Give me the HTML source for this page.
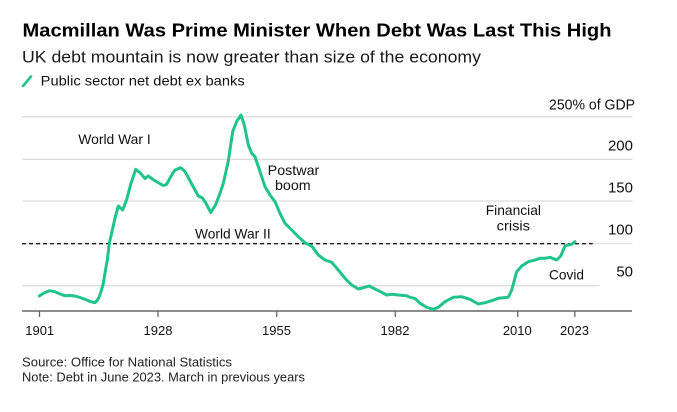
<!DOCTYPE html>
<html>
<head>
<meta charset="utf-8">
<style>
  html,body{margin:0;padding:0;background:#fff;}
  svg{display:block;}
  text{font-family:"Liberation Sans",Arial,sans-serif;}
</style>
</head>
<body>
<svg width="677" height="412" viewBox="0 0 677 412" xmlns="http://www.w3.org/2000/svg">
  <rect width="677" height="412" fill="#fff"/>

  <!-- Title block -->
  <text x="22.5" y="36.7" font-size="18.5" font-weight="bold" fill="#000" textLength="589" lengthAdjust="spacingAndGlyphs">Macmillan Was Prime Minister When Debt Was Last This High</text>
  <text x="22" y="62.7" font-size="17" fill="#1a1a1a" textLength="459" lengthAdjust="spacingAndGlyphs">UK debt mountain is now greater than size of the economy</text>
  <line x1="23" y1="86" x2="31" y2="76.5" stroke="#1fc38b" stroke-width="2.6" stroke-linecap="round"/>
  <text x="40.7" y="85.3" font-size="14" fill="#111" textLength="204" lengthAdjust="spacingAndGlyphs">Public sector net debt ex banks</text>

  <!-- Gridlines -->
  <g stroke="#dedede" stroke-width="1.3">
    <line x1="22" y1="116.8" x2="632.5" y2="116.8"/>
    <line x1="22" y1="159.3" x2="632.5" y2="159.3"/>
    <line x1="22" y1="201" x2="632.5" y2="201"/>
    <line x1="22" y1="243.5" x2="632.5" y2="243.5"/>
    <line x1="22" y1="285.7" x2="599.5" y2="285.7"/>
  </g>

  <!-- Y labels -->
  <g font-size="15" fill="#111" text-anchor="end">
    <text x="635" y="109.3" textLength="86" lengthAdjust="spacingAndGlyphs">250% of GDP</text>
    <text x="633" y="150.7">200</text>
    <text x="633" y="192.7">150</text>
    <text x="633" y="234.3">100</text>
    <text x="633" y="276.7">50</text>
  </g>

  <!-- Dashed 100% line -->
  <line x1="22" y1="243.7" x2="592.7" y2="243.7" stroke="#222" stroke-width="1.3" stroke-dasharray="4 3"/>

  <!-- Axis -->
  <line x1="22" y1="311" x2="632" y2="311" stroke="#666" stroke-width="1.6"/>
  <g stroke="#666" stroke-width="1.3">
    <line x1="39.5" y1="311" x2="39.5" y2="317"/>
    <line x1="158" y1="311" x2="158" y2="317"/>
    <line x1="276.7" y1="311" x2="276.7" y2="317"/>
    <line x1="395.3" y1="311" x2="395.3" y2="317"/>
    <line x1="517.7" y1="311" x2="517.7" y2="317"/>
    <line x1="574.8" y1="311" x2="574.8" y2="317"/>
  </g>
  <g font-size="13" fill="#111" text-anchor="middle">
    <text x="39.7" y="335">1901</text>
    <text x="158" y="335">1928</text>
    <text x="276.5" y="335">1955</text>
    <text x="395" y="335">1982</text>
    <text x="517.3" y="335">2010</text>
    <text x="574.5" y="335">2023</text>
  </g>

  <!-- Annotations -->
  <g font-size="14" fill="#111">
    <text x="78.3" y="144" textLength="72.4" lengthAdjust="spacingAndGlyphs">World War I</text>
    <text x="267.7" y="175" textLength="51.6" lengthAdjust="spacingAndGlyphs">Postwar</text>
    <text x="275" y="190" textLength="35.7" lengthAdjust="spacingAndGlyphs">boom</text>
    <text x="195" y="238.3" textLength="75.7" lengthAdjust="spacingAndGlyphs">World War II</text>
    <text x="485.7" y="215" textLength="55.3" lengthAdjust="spacingAndGlyphs">Financial</text>
    <text x="496.7" y="230.7" textLength="33.3" lengthAdjust="spacingAndGlyphs">crisis</text>
    <text x="549" y="279.3" textLength="35" lengthAdjust="spacingAndGlyphs">Covid</text>
  </g>

  <!-- Series -->
  <polyline fill="none" stroke="#1fc38b" stroke-width="3" stroke-linejoin="round" stroke-linecap="round"
    points="39.3,296 44,293 49.3,290.7 55,291.7 60,294 65,295.7 70,295.5 75,296 80,297.5 85,299.3 90,301.5 95,302.7 97.5,300 99.3,296.7 101.5,290 103.3,283.3 105.5,270 107.3,260 109.3,243.3 111.7,233 115,218 118.3,206 122.7,210 126.7,199.3 131,183.3 135.7,169.3 140,172.7 145,178.5 148.3,176 153,179.5 157,182 163.3,185.5 166.5,184.5 171.7,175 175,170 180.5,167.7 185,171.5 191.7,184 198.3,196 202.5,198 206,203.3 210.7,212.5 215.5,205 220,193.3 223.3,183.3 228.3,161 232.7,131.5 236.7,121.5 241,115 244.3,125 248.3,145 251.7,153.3 255,156.7 260,171.7 265,186.7 270,195 275,201.7 280,213.3 285,223.3 291.7,230 298.3,236.7 305,242.7 312.3,246.7 318.3,255 325,260 331.7,262.3 338.3,270 345,278.3 351.7,285 358.3,289 363.3,287.7 369,286 375,289 381.7,292.3 386.7,295 391.7,294.3 398.3,295 406.7,295.7 410,297.3 415,298.5 420,303.3 426.7,307.3 433.3,309.3 438.3,307.3 445,301.7 453.3,297.3 461.7,296.7 470,299.3 478.3,304 485,302.7 491.7,300.7 498.3,298.3 508.3,297.3 511.7,290 516.7,271.7 521.7,266 528.3,261.7 535,260 540,258.3 545,258.3 550,257.3 556.7,260 560.7,256 565,246 568.3,245 571.7,244.3 575,241.7"/>

  <!-- Footer -->
  <text x="22" y="366.7" font-size="13" fill="#222" textLength="210" lengthAdjust="spacingAndGlyphs">Source: Office for National Statistics</text>
  <text x="22" y="381.7" font-size="13" fill="#222" textLength="283" lengthAdjust="spacingAndGlyphs">Note: Debt in June 2023. March in previous years</text>
</svg>
</body>
</html>
